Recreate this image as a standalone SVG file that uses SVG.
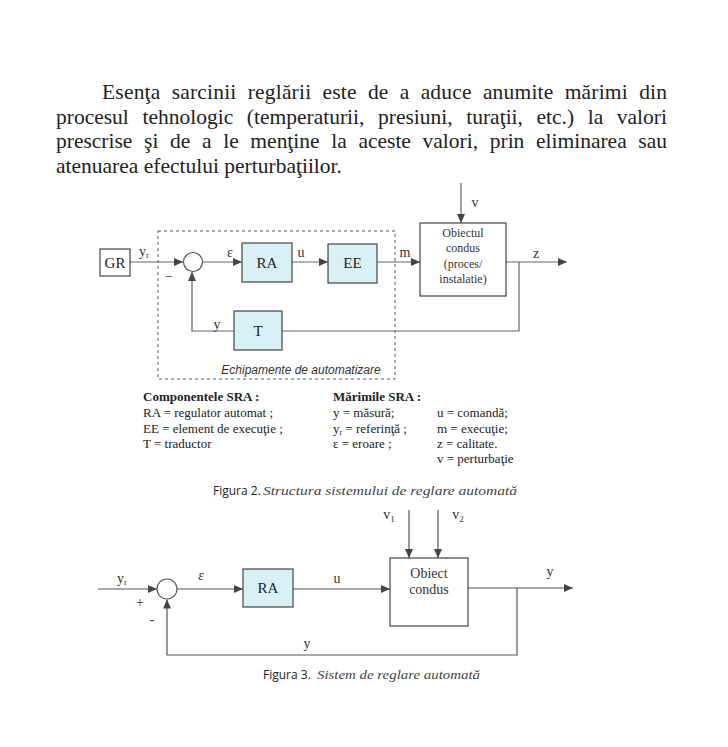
<svg xmlns="http://www.w3.org/2000/svg" width="728" height="747" viewBox="0 0 728 747">
<style>
.bg{fill:#ffffff}
.para{font-family:"Liberation Serif",serif;font-size:21.5px;fill:#222}
.box{fill:#ffffff;stroke:#444;stroke-width:1.2}
.blk{fill:#d8f1f6;stroke:#444;stroke-width:1.2}
.lbl{font-family:"Liberation Serif",serif;font-size:15px;fill:#222;text-anchor:middle}
.sm{font-family:"Liberation Serif",serif;font-size:14px;fill:#333;text-anchor:middle}
.obj{font-family:"Liberation Serif",serif;font-size:12px;fill:#333;text-anchor:middle}
.leg{font-family:"Liberation Serif",serif;font-size:13px;fill:#222}
.legb{font-family:"Liberation Serif",serif;font-size:13px;font-weight:bold;fill:#222}
.cap{font-family:"Open Sans","Noto Sans",sans-serif;font-size:12px;fill:#222}
.capi{font-family:"Liberation Serif",serif;font-size:13px;font-style:italic;fill:#444}
.ech{font-family:"Liberation Sans",sans-serif;font-size:12px;font-style:italic;fill:#333;text-anchor:middle}
.ln{fill:none;stroke:#666;stroke-width:1.2}
.ln2{fill:none;stroke:#555;stroke-width:1.2}
.sum{fill:#fff;stroke:#555;stroke-width:1.2}
.dash{fill:none;stroke:#555;stroke-width:1;stroke-dasharray:3,3}
</style>
<defs>
<marker id="ar" markerUnits="userSpaceOnUse" markerWidth="10" markerHeight="8" refX="9" refY="4" orient="auto">
<path d="M0,0 L9,4 L0,8 z" fill="#444"/>
</marker>
</defs>
<rect class="bg" x="0" y="0" width="728" height="747"/>

<g id="paragraph">
<text class="para" x="102" y="99" word-spacing="5.6" textLength="565" lengthAdjust="spacing">Esenţa sarcinii reglării este de a aduce anumite mărimi din</text>
<text class="para" x="56" y="124" word-spacing="8.2" textLength="611" lengthAdjust="spacing">procesul tehnologic (temperaturii, presiuni, turaţii, etc.) la valori</text>
<text class="para" x="56" y="148" word-spacing="6.3" textLength="611" lengthAdjust="spacing">prescrise şi de a le menţine la aceste valori, prin eliminarea sau</text>
<text class="para" x="56" y="173">atenuarea efectului perturbaţiilor.</text>
</g>

<!-- Figure 2 -->
<g id="fig2-boundary">
<rect class="dash" x="158" y="231" width="237" height="148"/>
<text class="ech" x="301" y="374">Echipamente de automatizare</text>
</g>

<g id="fig2-connectors">
<line class="ln" x1="130" y1="262" x2="183" y2="262" marker-end="url(#ar)"/>
<line class="ln" x1="202" y1="262" x2="242" y2="262" marker-end="url(#ar)"/>
<line class="ln" x1="292" y1="262" x2="328" y2="262" marker-end="url(#ar)"/>
<line class="ln" x1="377" y1="262" x2="420" y2="262" marker-end="url(#ar)"/>
<line class="ln" x1="461" y1="183" x2="461" y2="223" marker-end="url(#ar)"/>
<line class="ln" x1="506" y1="262" x2="567" y2="262" marker-end="url(#ar)"/>
<polyline class="ln" points="519,262 519,331 282,331"/>
<polyline class="ln" points="234,331 192,331 192,272" marker-end="url(#ar)"/>
<text class="sm" x="144" y="256">y<tspan font-size="9" dy="2">r</tspan></text>
<text class="sm" x="169" y="281">−</text>
<text class="sm" x="230" y="257">ε</text>
<text class="sm" x="301" y="257">u</text>
<text class="sm" x="405" y="257">m</text>
<text class="sm" x="475" y="207">v</text>
<text class="sm" x="536" y="258">z</text>
<text class="sm" x="217" y="329">y</text>
</g>

<g id="GR"><rect class="box" x="100" y="249" width="30" height="27"/><text class="lbl" x="115" y="268">GR</text></g>
<g id="sum1"><circle class="sum" cx="193" cy="262" r="9.5"/></g>
<g id="RA1"><rect class="blk" x="242" y="243" width="50" height="39"/><text class="lbl" x="267" y="268">RA</text></g>
<g id="EE"><rect class="blk" x="328" y="244" width="49" height="39"/><text class="lbl" x="352.5" y="268">EE</text></g>
<g id="T"><rect class="blk" x="234" y="311" width="48" height="39"/><text class="lbl" x="258" y="336">T</text></g>
<g id="Obiectul">
<rect class="box" x="420" y="223" width="86" height="73"/>
<text class="obj" x="463" y="237">Obiectul</text>
<text class="obj" x="463" y="252">condus</text>
<text class="obj" x="463" y="268">(proces/</text>
<text class="obj" x="463" y="283">instalatie)</text>
</g>

<g id="legend">
<text class="legb" x="143" y="401" font-size="13.5">Componentele SRA :</text>
<text class="leg" x="143" y="417" font-size="13.5">RA = regulator automat ;</text>
<text class="leg" x="143" y="433" font-size="13.5">EE = element de execuţie ;</text>
<text class="leg" x="143" y="448" font-size="13.5">T = traductor</text>
<text class="legb" x="333" y="401">Mărimile SRA :</text>
<text class="leg" x="333" y="417">y = măsură;</text>
<text class="leg" x="333" y="433">y<tspan font-size="8" dy="2">r</tspan><tspan dy="-2"> = referinţă ;</tspan></text>
<text class="leg" x="333" y="448">ε = eroare ;</text>
<text class="leg" x="437" y="417" font-size="12">u = comandă;</text>
<text class="leg" x="437" y="433" font-size="12">m =  execuţie;</text>
<text class="leg" x="437" y="448" font-size="12">z = calitate.</text>
<text class="leg" x="437" y="463" font-size="12">v = perturbaţie</text>
</g>

<g id="caption2">
<text class="cap" x="213" y="495">Figura 2.</text>
<text class="capi" x="263" y="495" textLength="254" lengthAdjust="spacingAndGlyphs">Structura sistemului de reglare automată</text>
</g>

<!-- Figure 3 -->
<g id="fig3-connectors">
<line class="ln2" x1="98" y1="589" x2="157" y2="589" marker-end="url(#ar)"/>
<line class="ln2" x1="177" y1="589" x2="243" y2="589" marker-end="url(#ar)"/>
<line class="ln2" x1="293" y1="589" x2="390" y2="589" marker-end="url(#ar)"/>
<line class="ln2" x1="409" y1="510" x2="409" y2="558" marker-end="url(#ar)"/>
<line class="ln2" x1="438" y1="510" x2="438" y2="558" marker-end="url(#ar)"/>
<line class="ln2" x1="468" y1="588" x2="573" y2="588" marker-end="url(#ar)"/>
<polyline class="ln2" points="517,588 517,655 167,655 167,599.5" marker-end="url(#ar)"/>
<text class="sm" x="122" y="583">y<tspan font-size="9" dy="2">r</tspan></text>
<text class="sm" x="140" y="607">+</text>
<text class="sm" x="152" y="624">-</text>
<text class="sm" x="201" y="580" font-style="italic">ε</text>
<text class="sm" x="337" y="583">u</text>
<text class="sm" x="389" y="519">v<tspan font-size="9" dy="3">1</tspan></text>
<text class="sm" x="458" y="519">v<tspan font-size="9" dy="3">2</tspan></text>
<text class="sm" x="550" y="576">y</text>
<text class="sm" x="307" y="648">y</text>
</g>
<g id="sum2"><circle class="sum" cx="167" cy="589" r="10"/></g>
<g id="RA2"><rect class="blk" x="243" y="569" width="50" height="38"/><text class="lbl" x="268" y="593" font-size="14">RA</text></g>
<g id="Obiect">
<rect class="box" x="390" y="558" width="78" height="68"/>
<text class="sm" x="429" y="578">Obiect</text>
<text class="sm" x="429" y="594">condus</text>
</g>

<g id="caption3">
<text class="cap" x="263" y="679">Figura 3.</text>
<text class="capi" x="317" y="679" textLength="163" lengthAdjust="spacingAndGlyphs">Sistem de reglare automată</text>
</g>
</svg>
